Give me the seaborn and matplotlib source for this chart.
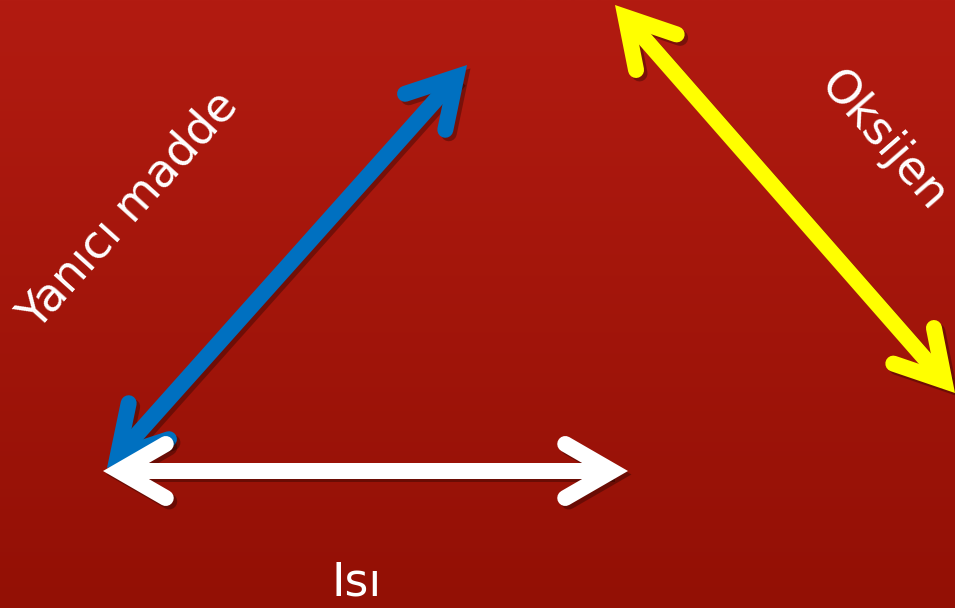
import numpy as np
import pandas as pd
import seaborn as sns
import matplotlib
matplotlib.use("Agg")
import matplotlib.pyplot as plt
import matplotlib.patheffects as pe

# --- data -----------------------------------------------------------------
labels = ["Yanıcı madde", "Oksijen", "Isı"]
arrow_x0 = [107, 615, 103]
arrow_y0 = [468, 5, 471]
arrow_x1 = [467, 955, 628]
arrow_y1 = [65, 393, 471]
arrow_colors = ["#0070C0", "#FFFF00", "#FFFFFF"]
label_x = [129, 883, 357]
label_y = [211, 141, 583]
label_rot = [48, -49, 0]

# --- figure ---------------------------------------------------------------
sns.set_theme(style="white")
plt.rcParams["font.family"] = ["DejaVu Sans"]
fig = plt.figure(figsize=(9.55, 6.08), dpi=100)
ax = fig.add_axes([0, 0, 1, 1])
ax.set_xlim(0, 955)
ax.set_ylim(608, 0)
ax.axis("off")

top = np.array([178, 27, 17]) / 255
bot = np.array([147, 16, 5]) / 255
t = np.linspace(0, 1, 256)[:, None]
grad = (top[None, :] * (1 - t) + bot[None, :] * t)[:, None, :]
ax.imshow(grad, extent=[0, 955, 608, 0], aspect="auto", zorder=0)

W = 16          # line width in px
LW = W * 0.72   # points
TH = np.deg2rad(30)
L = 54
shadow_only = [pe.SimpleLineShadow(offset=(2.5, -2.5), shadow_color="black", alpha=0.3)]


def rot(v, a):
    c, s = np.cos(a), np.sin(a)
    return np.array([c * v[0] - s * v[1], s * v[0] + c * v[1]])


def draw_line(xs, ys, color, z, cap="round"):
    df = pd.DataFrame({"x": xs, "y": ys})
    # shadow layer
    sns.lineplot(data=df, x="x", y="y", sort=False, estimator=None, ax=ax,
                 color=color, linewidth=LW, solid_capstyle=cap,
                 solid_joinstyle="miter", path_effects=shadow_only, zorder=z)
    # main stroke
    sns.lineplot(data=df, x="x", y="y", sort=False, estimator=None, ax=ax,
                 color=color, linewidth=LW, solid_capstyle=cap,
                 solid_joinstyle="miter", zorder=z + 1)


for i, col in enumerate(arrow_colors):
    p0 = np.array([arrow_x0[i], arrow_y0[i]], float)
    p1 = np.array([arrow_x1[i], arrow_y1[i]], float)
    u = (p1 - p0) / np.linalg.norm(p1 - p0)
    z = 3 + 2 * i
    off = (W / 2) / np.sin(TH)
    a = p0 + u * off
    b = p1 - u * off
    draw_line([a[0], b[0]], [a[1], b[1]], col, z, cap="butt")
    for tip, d in ((p0, u), (p1, -u)):
        v = tip + d * off
        a1 = v + L * rot(d, TH)
        a2 = v + L * rot(d, -TH)
        draw_line([a1[0], v[0], a2[0]], [a1[1], v[1], a2[1]], col, z)

for i, lab in enumerate(labels):
    ax.text(label_x[i], label_y[i], lab, color="white", fontsize=33,
            rotation=label_rot[i], rotation_mode="anchor",
            ha="center", va="center", zorder=20)

fig.savefig("out.png", dpi=100)
